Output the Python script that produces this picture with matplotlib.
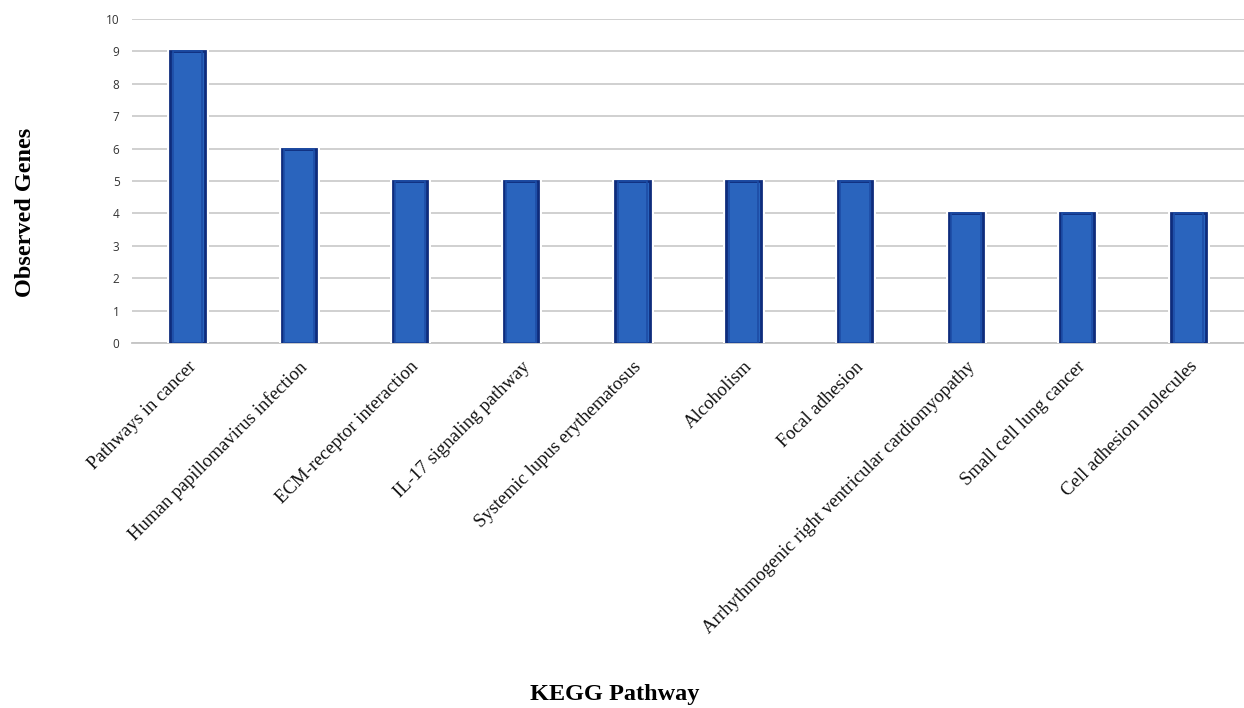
import matplotlib.pyplot as plt
import numpy as np

pathways = [
    "Pathways in cancer",
    "Human papillomavirus infection",
    "ECM-receptor interaction",
    "IL-17 signaling pathway",
    "Systemic lupus erythematosus",
    "Alcoholism",
    "Focal adhesion",
    "Arrhythmogenic right ventricular cardiomyopathy",
    "Small cell lung cancer",
    "Cell adhesion molecules",
]
genes = [9, 6, 5, 5, 5, 5, 5, 4, 4, 4]
y_ticks = list(range(0, 11))

fig = plt.figure(figsize=(12.44, 7.08), dpi=100, facecolor="white")
ax = fig.add_axes([132 / 1244, 1 - 343 / 708, 1112 / 1244, 324 / 708])

x = np.arange(len(pathways))
width = 0.31

# white halo so the gridlines stop short of each bar
ax.bar(x, genes, width=width, color="white", edgecolor="white",
       linewidth=5, zorder=2)
ax.bar(x, genes, width=width, color="#2A64BD", edgecolor="#0E2C7C",
       linewidth=2.0, zorder=3)
# softer inner rim
ax.bar(x, genes, width=width * 0.86, color="none", edgecolor="#1D4DA6",
       linewidth=1.2, zorder=4)

ax.set_xlim(-0.5, len(pathways) - 0.5)
ax.set_ylim(0, 10)
ax.set_yticks(y_ticks)
ax.yaxis.grid(True, color="#C4C4C4", linewidth=1.1, zorder=1)
ax.set_axisbelow(True)

for side in ["top", "right", "left"]:
    ax.spines[side].set_visible(False)
ax.spines["bottom"].set_color("#C4C4C4")
ax.spines["bottom"].set_linewidth(1.3)
ax.spines["bottom"].set_zorder(1)

ax.tick_params(axis="y", length=0, pad=9, labelsize=8.5, labelcolor="#333333")
for lbl in ax.get_yticklabels():
    lbl.set_family("Open Sans")

ax.set_xticks(x)
ax.set_xticklabels(pathways, rotation=45, ha="right", rotation_mode="anchor",
                   family="Liberation Serif", fontsize=13.5, color="#111111")
ax.tick_params(axis="x", length=0, pad=11)

fig.text(26 / 1244, 1 - 212 / 708, "Observed Genes", rotation=90,
         ha="center", va="center", family="Liberation Serif",
         fontweight="bold", fontsize=17.5)
fig.text(615 / 1244, 1 - 700 / 708, "KEGG Pathway", ha="center",
         va="baseline", family="Liberation Serif", fontweight="bold",
         fontsize=17.5)

fig.savefig("out.png", dpi=100, facecolor="white")
